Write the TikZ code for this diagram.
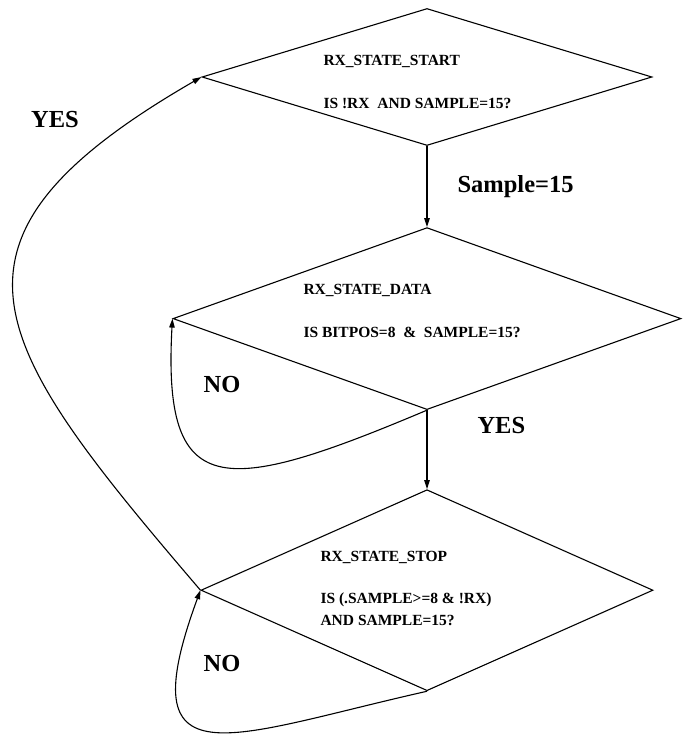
\documentclass[tikz,border=0pt]{standalone}
\usepackage{fontspec}
\setmainfont{Liberation Serif}
\usetikzlibrary{arrows.meta, positioning, shapes.geometric}

\begin{document}
\begin{tikzpicture}[
    x=1pt, y=-1pt, >={Triangle[length=9pt, width=5.5pt]},
    line width=1.1pt,
    decision/.style={draw, shape=diamond, inner sep=0pt},
    cond/.style={font=\fontsize{15.5}{22}\selectfont\bfseries,
                 align=left, inner sep=0pt, anchor=north west},
    lbl/.style={font=\fontsize{24.5}{28}\selectfont\bfseries, inner sep=0pt}
  ]
  \useasboundingbox (0,0) rectangle (692,736);

  % the three states
  \node[decision, minimum width=450pt, minimum height=137pt] (start) at (427,77) {};
  \node[decision, minimum width=508pt, minimum height=182pt,
        below=81pt of start] (data) {};
  \node[decision, minimum width=452pt, minimum height=201pt,
        below=79pt of data] (stop) {};

  \node[cond] (starttxt) at ([shift={(-104,-22)}]start.center)
    {RX\_STATE\_START\\[21pt]IS !RX\ \ AND SAMPLE=15?};
  \node[cond] (datatxt) at ([shift={(-124,-35)}]data.center)
    {RX\_STATE\_DATA\\[21pt]IS BITPOS=8\ \ \&\ \ SAMPLE=15?};
  \node[cond] (stoptxt) at ([shift={(-107,-40)}]stop.center)
    {RX\_STATE\_STOP\\[20pt]IS (.SAMPLE>=8 \& !RX)\\AND SAMPLE=15?};

  % transitions
  \draw[->] (start.south) -- node[lbl, right=30pt] (lblsample) {Sample=15} (data.north);
  \draw[->] (data.south) -- node[lbl, pos=0.2, right=50pt] (yesdata) {YES} (stop.north);
  \draw[->] (data.south) .. controls +(-206,87) and +(-10,182) .. (data.west);
  \draw[->] (stop.south) .. controls +(-200,45) and +(-72,196) .. (stop.west);
  \draw[->] (stop.west) .. controls +(-213,-249) and +(-284,164) .. (start.west);

  \node[lbl] (nodata) at (222,385) {NO};
  \node[lbl] (nostop) at (222,663) {NO};
  \node[lbl] (yesback) at (55,120) {YES};
\end{tikzpicture}
\end{document}
